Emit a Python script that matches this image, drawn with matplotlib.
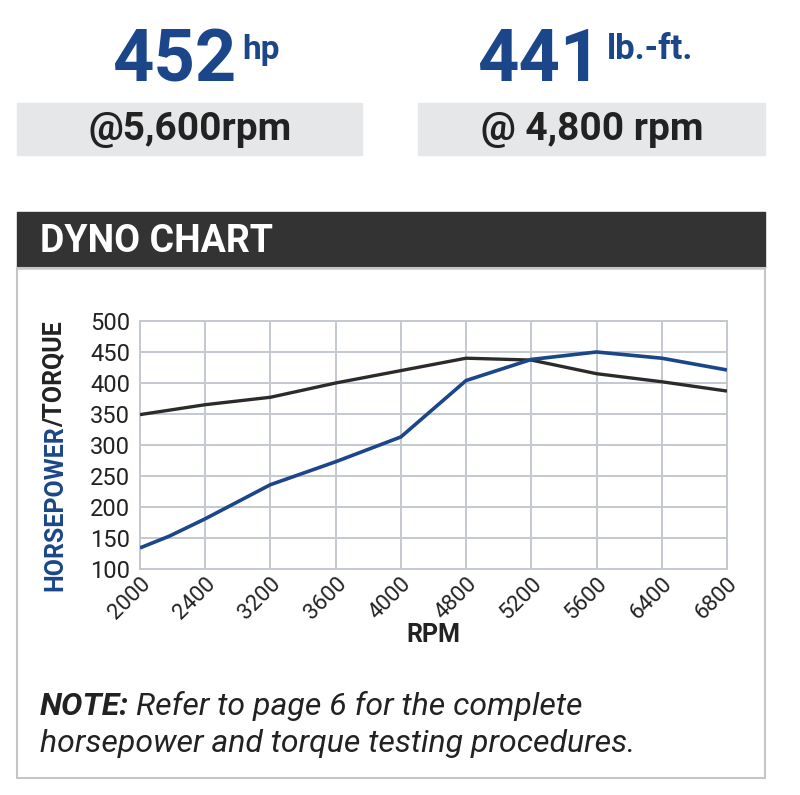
import matplotlib
matplotlib.use("Agg")
import matplotlib.pyplot as plt
from matplotlib.patches import Rectangle

rpm_labels = ["2000", "2400", "3200", "3600", "4000", "4800", "5200", "5600", "6400", "6800"]
hp_pos = [0, 0.45, 1, 2, 3, 4, 5, 6, 7, 8, 9]
hp = [134, 153, 181, 236, 273, 313, 404, 438, 450, 440, 421]
tq_pos = [0, 1, 2, 3, 4, 5, 6, 7, 8, 9]
tq = [349, 365, 377, 400, 420, 440, 437, 415, 402, 387]

BLUE = "#1b4689"
DARK = "#2b2b2b"
FONT = "Roboto"
W, H = 800, 795


def fx(px):
    return px / W


def fy(py):
    return 1 - py / H


def main():
    fig = plt.figure(figsize=(8, 7.95), dpi=100)

    # top boxes
    for x0, x1 in [(17, 362), (418, 765)]:
        fig.patches.append(Rectangle((fx(x0), fy(155)), fx(x1) - fx(x0), fy(103) - fy(155),
                                     transform=fig.transFigure, color="#e6e7e9", zorder=0))
    fig.text(fx(236), fy(81), "452", ha="right", va="baseline", fontsize=52, fontweight="bold",
             color=BLUE, family=FONT)
    fig.text(fx(242), fy(59), "hp", ha="left", va="baseline", fontsize=24, fontweight="bold",
             color=BLUE, family=FONT)
    fig.text(fx(601), fy(81), "441", ha="right", va="baseline", fontsize=52, fontweight="bold",
             color=BLUE, family=FONT)
    fig.text(fx(607), fy(59), "lb.-ft.", ha="left", va="baseline", fontsize=25, fontweight="bold",
             color=BLUE, family=FONT)
    fig.text(fx(190), fy(129), "@5,600rpm", ha="center", va="center", fontsize=28,
             fontweight="bold", color="#222222", family=FONT)
    fig.text(fx(592), fy(129), "@ 4,800 rpm", ha="center", va="center", fontsize=28,
             fontweight="bold", color="#222222", family=FONT)

    # chart panel
    fig.patches.append(Rectangle((fx(17), fy(268)), fx(765) - fx(17), fy(212) - fy(268),
                                 transform=fig.transFigure, color="#333333", zorder=0))
    fig.patches.append(Rectangle((fx(17), fy(778)), fx(765) - fx(17), fy(268) - fy(778),
                                 transform=fig.transFigure, facecolor="none",
                                 edgecolor="#c4c6c8", lw=1.5, zorder=0))
    fig.text(fx(40), fy(242), "DYNO CHART", ha="left", va="center", fontsize=27,
             fontweight="bold", color="white", family=FONT)

    ax = fig.add_axes([fx(140), fy(569), fx(727) - fx(140), fy(321) - fy(569)])
    ax.plot(tq_pos, tq, color=DARK, lw=2.4, solid_capstyle="butt", zorder=3)
    ax.plot(hp_pos, hp, color=BLUE, lw=2.6, solid_capstyle="butt", zorder=4)
    ax.set_xlim(0, 9)
    ax.set_ylim(100, 500)
    ax.set_xticks(range(len(rpm_labels)))
    ax.set_xticklabels(rpm_labels, rotation=45, ha="right", rotation_mode="anchor",
                       fontsize=16, family=FONT, color="#222222")
    ax.set_yticks(range(100, 501, 50))
    ax.tick_params(axis="y", labelsize=17, colors="#222222", length=0, pad=7)
    ax.tick_params(axis="x", length=0, pad=3)
    for lab in ax.get_yticklabels():
        lab.set_family(FONT)
    ax.grid(True, color="#c3c9cf", lw=1.4)
    ax.set_axisbelow(True)
    for s in ax.spines.values():
        s.set_color("#c3c9cf")
        s.set_linewidth(1.4)

    ax.set_xlabel("RPM", fontsize=18, fontweight="bold", color="#222222", family=FONT,
                  labelpad=0)

    # y label in two colours
    t1 = fig.text(fx(55), fy(591), "HORSEPOWER", rotation=90, ha="center", va="bottom",
                  fontsize=18, fontweight="bold", color=BLUE, family=FONT)
    fig.canvas.draw()
    bb = t1.get_window_extent()
    fig.text(fx(55), (bb.y1 - 2) / fig.dpi / 7.95, "/TORQUE", rotation=90, ha="center",
             va="bottom", fontsize=18, fontweight="bold", color="#222222", family=FONT)

    # note
    n1 = fig.text(fx(40), fy(715), "NOTE:", ha="left", va="baseline", fontsize=23,
                  fontweight="bold", style="italic", color="#222222", family=FONT)
    fig.canvas.draw()
    nb = n1.get_window_extent()
    fig.text((nb.x1 + 7) / 800, fy(715), "Refer to page 6 for the complete", ha="left",
             va="baseline", fontsize=23, style="italic", color="#222222", family=FONT)
    fig.text(fx(40), fy(752), "horsepower and torque testing procedures.", ha="left",
             va="baseline", fontsize=23, style="italic", color="#222222", family=FONT)

    fig.savefig("out.png", dpi=100, facecolor="white")


if __name__ == "__main__":
    main()
